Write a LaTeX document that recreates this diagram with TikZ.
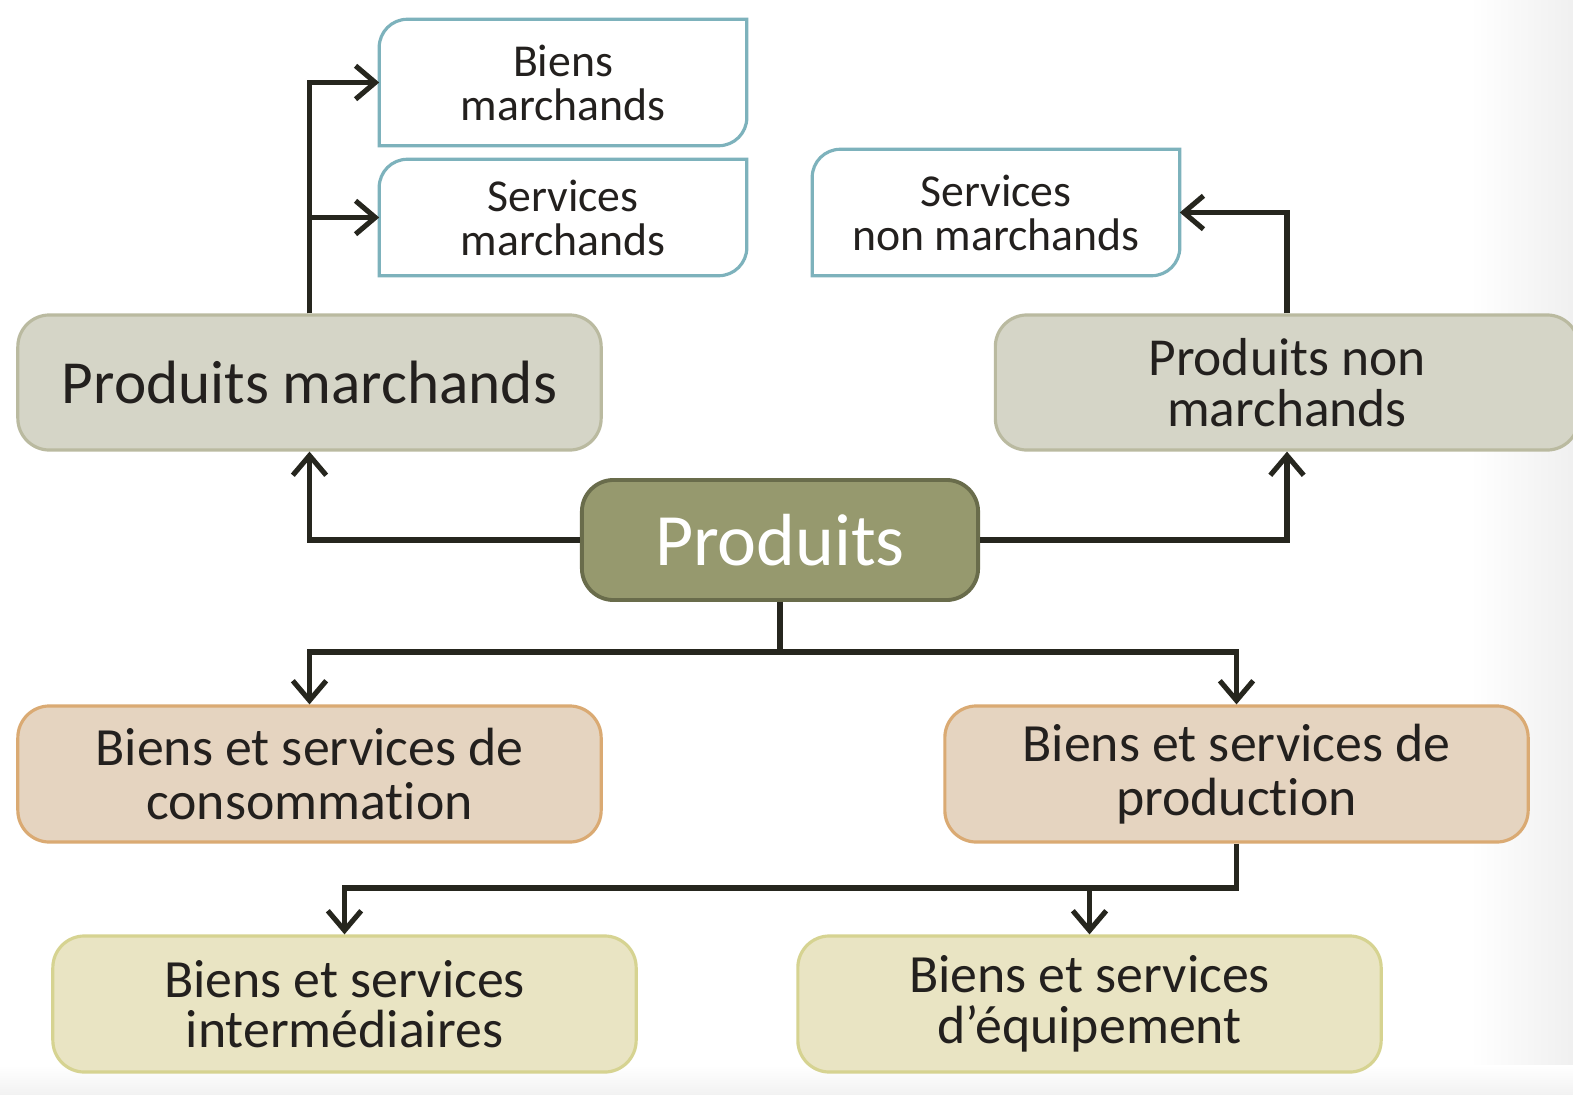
\documentclass[tikz,border=0pt]{standalone}
\usepackage{fontspec}
\setmainfont{Carlito}[Ligatures=NoCommon]
\usetikzlibrary{arrows.meta,calc}
\definecolor{linec}{RGB}{38,38,30}
\definecolor{txtc}{RGB}{35,32,30}
\definecolor{tealc}{RGB}{125,178,188}
\definecolor{grayf}{RGB}{213,213,199}
\definecolor{grayd}{RGB}{186,186,160}
\definecolor{olivef}{RGB}{150,153,110}
\definecolor{olived}{RGB}{105,108,75}
\definecolor{orangef}{RGB}{229,212,192}
\definecolor{oranged}{RGB}{218,170,115}
\definecolor{yellowf}{RGB}{233,228,195}
\definecolor{yellowd}{RGB}{214,211,145}
\tikzset{
  base/.style={inner sep=0pt, align=center, text=txtc},
  smallbox/.style={base, minimum width=3.66cm, font=\fontsize{13}{12.5}\selectfont},
  graybox/.style={base, draw=grayd, fill=grayf, line width=0.9pt, rounded corners=9pt, minimum width=5.83cm, minimum height=1.35cm},
  topbox/.style={base, draw=olived, fill=olivef, line width=1.1pt, rounded corners=9pt, text=white, minimum width=3.96cm, minimum height=1.2cm, font=\fontsize{21}{21}\selectfont},
  orangebox/.style={base, draw=oranged, fill=orangef, line width=0.9pt, rounded corners=9pt, minimum width=5.83cm, minimum height=1.36cm, font=\fontsize{15.3}{15.2}\selectfont},
  yellowbox/.style={base, draw=yellowd, fill=yellowf, line width=0.9pt, rounded corners=9pt, minimum width=5.83cm, minimum height=1.36cm, font=\fontsize{15.3}{14.4}\selectfont},
  conn/.style={draw=linec, line width=1.45pt},
  arr/.style={conn, -{Straight Barb[length=5.6pt, width=9.5pt, line width=1.45pt]}},
}
\newcommand{\diagbox}[1]{%
  \draw[draw=tealc, fill=white, line width=0.9pt]
    (#1.south west) -- ($(#1.north west)+(0pt,-8pt)$)
    arc[start angle=180, end angle=90, radius=8pt]
    -- (#1.north east) -- ($(#1.south east)+(0pt,8pt)$)
    arc[start angle=0, end angle=-90, radius=8pt] -- cycle;}
\begin{document}
\begin{tikzpicture}[x=0.01cm, y=-0.01cm]
\useasboundingbox (0,0) rectangle (1573,1094);
\clip (0,0) rectangle (1573,1094);
\fill[white] (0,0) rectangle (1573,1094);
\shade[left color=white, right color=black!6] (1470,0) rectangle (1573,1094);
\shade[top color=white, bottom color=black!5] (0,1065) rectangle (1573,1094);

% small diagonal-rounded boxes
\path (563,82.5) node[smallbox, minimum height=1.25cm] (bm) {};
\path (563,217.5) node[smallbox, minimum height=1.15cm] (sm) {};
\path (996,212.5) node[smallbox, minimum height=1.25cm] (snm) {};
\diagbox{bm}\diagbox{sm}\diagbox{snm}
\node[smallbox] at (bm) {Biens\\marchands};
\node[smallbox] at (sm) {Services\\marchands};
\node[smallbox] at (snm) {Services\\non marchands};

% main boxes
\node[graybox, font=\fontsize{17.4}{17}\selectfont] (pm) at (309.5,382.5) {Produits marchands};
\node[graybox, font=\fontsize{15.2}{14.3}\selectfont] (pnm) at (1287,382.5) {Produits non\\marchands};
\node[topbox] (pr) at (780,540) {Produits};
\node[orangebox] (bc) at (309.5,774) {Biens et services de\\consommation};
\node[orangebox] (bp) at (1236.5,774) {Biens et services de\\production};
\node[yellowbox] (bi) at (344.5,1004) {Biens et services\\intermédiaires};
\node[yellowbox] (be) at (1089.5,1004) {Biens et services\\d’équipement};

% connectors
\draw[arr] (pm.north) |- (bm.west);
\draw[arr] (pm.north) |- (sm.west);
\draw[arr] (pnm.north) |- (snm.east);
\draw[arr] (pr.west) -| (pm.south);
\draw[arr] (pr.east) -| (pnm.south);
\coordinate (b1) at (780,652);
\draw[conn] (pr.south) -- (b1);
\draw[arr] (b1) -| (bc.north);
\draw[arr] (b1) -| (bp.north);
\coordinate (b2) at (1236.5,888);
\draw[arr] (bp.south) -- (b2) -| (bi.north);
\draw[arr] (b2) -| (be.north);
\end{tikzpicture}
\end{document}
